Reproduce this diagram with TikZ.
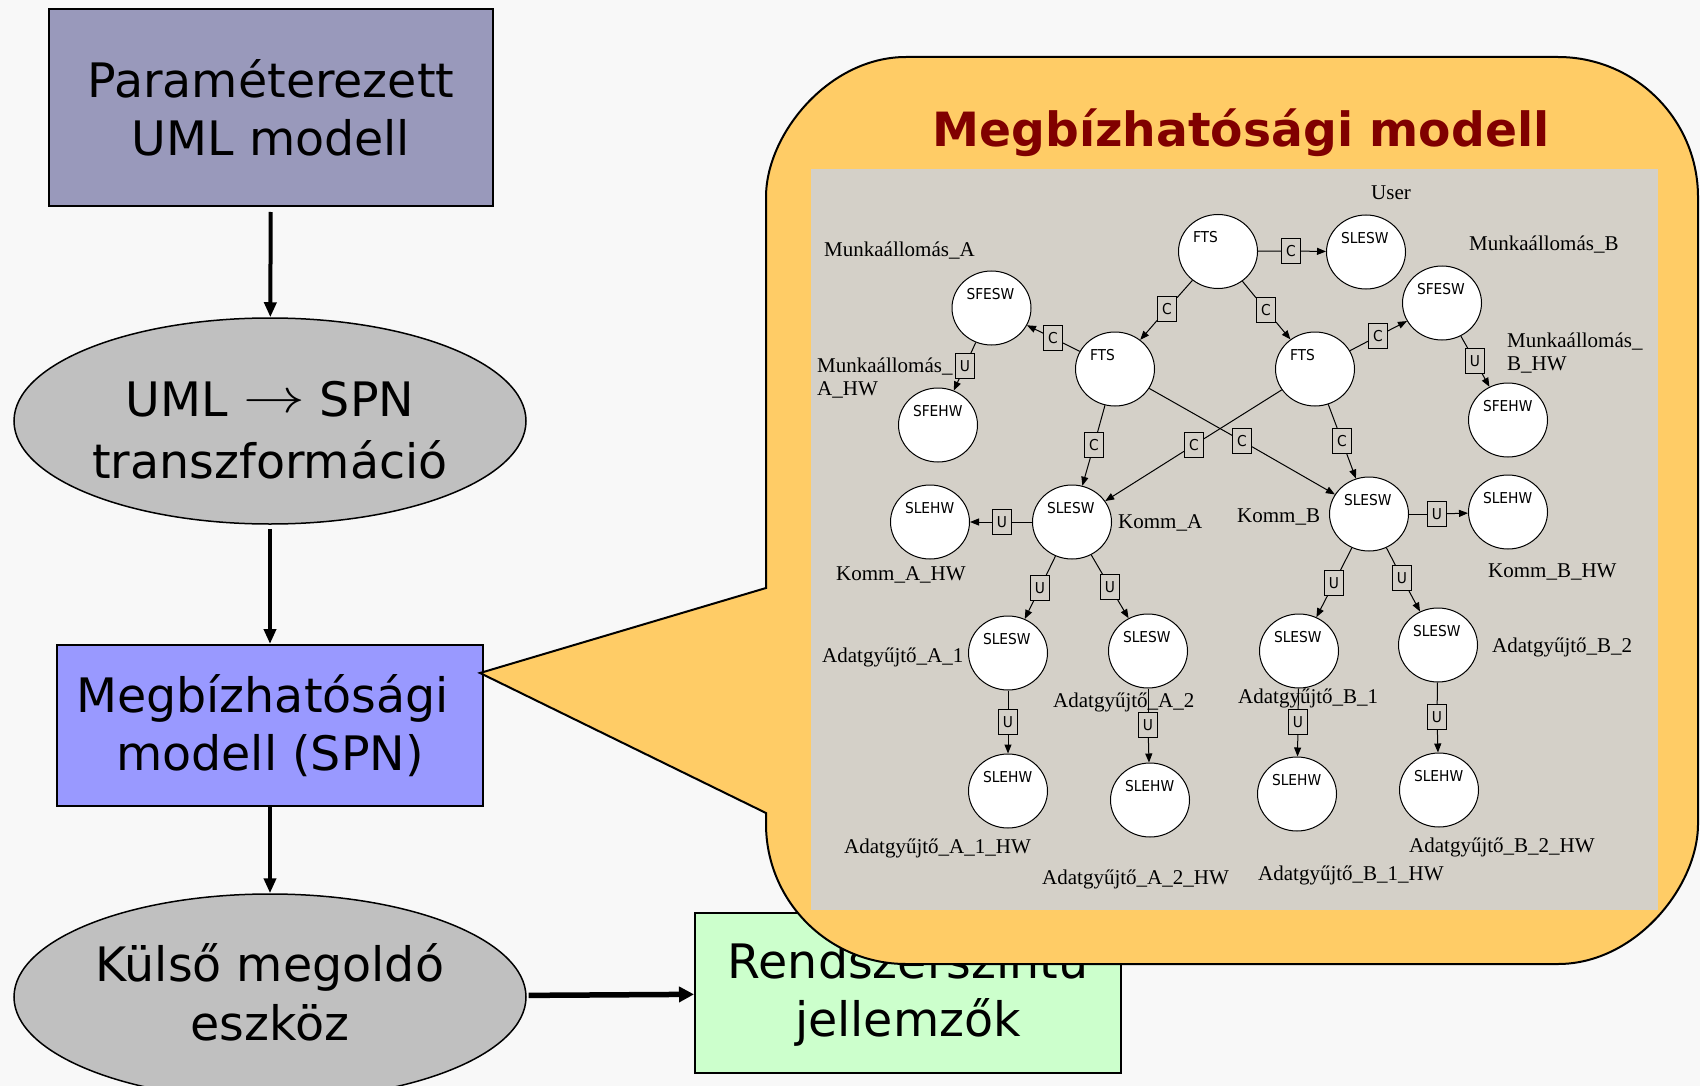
\RequirePackage{fix-cm}
\documentclass[tikz,border=0pt]{standalone}
\usepackage{fontspec}
\usepackage{graphicx}
\usetikzlibrary{arrows.meta,shapes.geometric}

\newfontfamily\flowfont{DejaVu Sans}
\newfontfamily\netfont[FakeStretch=0.92]{DejaVu Sans}
\newfontfamily\tagfont{Liberation Serif}

\definecolor{bgcol}{HTML}{F8F8F8}
\definecolor{umlcol}{HTML}{9999BB}
\definecolor{spncol}{HTML}{9999FF}
\definecolor{ellcol}{HTML}{C0C0C0}
\definecolor{rescol}{HTML}{CCFFCC}
\definecolor{calloutcol}{HTML}{FFCC66}
\definecolor{panelcol}{HTML}{D4D0C8}
\definecolor{titlered}{HTML}{800000}

% place label: left-aligned, slightly above the centre of the circle
\newcommand{\plabel}[1]{\raisebox{9pt}[0pt][0pt]{\makebox[0pt][l]{\kern-25pt #1}}}

\begin{document}
\begin{tikzpicture}[x=1pt,y=-1pt,
  flowbox/.style={rectangle, draw=black, line width=2pt, inner sep=0pt, align=center,
    font=\flowfont\fontsize{47.5pt}{58pt}\selectfont},
  flowell/.style={ellipse, draw=black, line width=1.5pt, fill=ellcol, inner sep=0pt, align=center,
    minimum width=512pt, minimum height=206pt},
  flow/.style={line width=4pt, -{Triangle[length=15pt,width=12pt]}},
  place/.style={ellipse, draw=black, line width=1pt, fill=white, minimum width=79pt,
    minimum height=74pt, inner sep=0pt, font=\netfont\fontsize{15pt}{15pt}\selectfont},
  gate/.style={rectangle, draw=black, line width=1pt, fill=panelcol, minimum width=19pt,
    minimum height=25pt, inner sep=0pt, font=\netfont\fontsize{15pt}{15pt}\selectfont},
  tag/.style={inner sep=0pt, anchor=base west, font=\tagfont\fontsize{21pt}{23pt}\selectfont},
  arc/.style={line width=1pt},
  arcto/.style={line width=1pt, -{Triangle[length=9pt,width=7pt]}}
]
\useasboundingbox (0,0) rectangle (1700,1086);
\fill[bgcol] (0,0) rectangle (1700,1086);

% ---------- tool chain on the left ----------
\node[flowbox, fill=umlcol, minimum width=444pt, minimum height=197pt] (uml) at (271,107.5)
  {Paraméterezett\\UML modell};
\node[flowell, font=\flowfont\fontsize{47.5pt}{62pt}\selectfont] (trans) at (270,421)
  {\rule{0pt}{54pt}UML \raisebox{4pt}{\scalebox{1.3}[1]{$\rightarrow$}} SPN\\transzformáció};
\node[flowbox, fill=spncol, minimum width=426pt, minimum height=161pt] (spn) at (270,725.5)
  {Megbízhatósági\hspace*{15pt}\\modell (SPN)};
\node[flowell, font=\flowfont\fontsize{47.5pt}{59pt}\selectfont] (solver) at (270,997)
  {Külső megoldó\\eszköz\rule[-10pt]{0pt}{0pt}};
\node[flowbox, fill=rescol, minimum width=426pt, minimum height=160pt] (result) at (908,993)
  {Rendszerszintű\\jellemzők};

\draw[flow, shorten <=5pt] (uml) -- (trans);
\draw[flow, shorten <=4pt] (trans) -- (spn);
\draw[flow] (spn) -- (solver);
\draw[line width=5.5pt, -{Triangle[length=15pt,width=15pt]}, shorten <=2pt] (solver) -- (result);

% ---------- callout with the reliability model ----------
\draw[line width=2pt, fill=calloutcol, line join=miter]
  (766,588) -- (480,673) -- (766,813) -- (766,824)
  .. controls (766,901.3) and (828.7,964) .. (906,964) -- (1558,964)
  .. controls (1635.3,964) and (1698,886.7) .. (1698,824) -- (1698,197)
  .. controls (1698,119.7) and (1635.3,57) .. (1558,57) -- (906,57)
  .. controls (828.7,57) and (766,134.3) .. (766,197) -- cycle;

\node[inner sep=0pt, anchor=base, text=titlered, font=\flowfont\bfseries\fontsize{47.2pt}{50pt}\selectfont]
  (title) at (1241,147) {Megbízhatósági modell};

\node[fill=panelcol, inner sep=0pt, minimum width=847pt, minimum height=741pt] (panel) at (1234.5,539.5) {};

% ---------- places ----------
\node[place] (ftsU) at (1218,251.5) {\plabel{FTS}};
\node[place] (slU)  at (1366,252)   {\plabel{SLESW}};
\node[place] (sfeA) at (991.5,308)  {\plabel{SFESW}};
\node[place] (ftsA) at (1115,369)   {\plabel{FTS}};
\node[place] (sfhA) at (938,425)    {\plabel{SFEHW}};
\node[place] (ftsB) at (1315,369)   {\plabel{FTS}};
\node[place] (sfeB) at (1442,303)   {\plabel{SFESW}};
\node[place] (sfhB) at (1508,420)   {\plabel{SFEHW}};
\node[place] (slA)  at (1072,522)   {\plabel{SLESW}};
\node[place] (shA)  at (930,522)    {\plabel{SLEHW}};
\node[place] (slB)  at (1369,514)   {\plabel{SLESW}};
\node[place] (shB)  at (1508,512)   {\plabel{SLEHW}};
\node[place] (a1)   at (1008,653)   {\plabel{SLESW}};
\node[place] (a2)   at (1148,651)   {\plabel{SLESW}};
\node[place] (b1)   at (1299,651)   {\plabel{SLESW}};
\node[place] (b2)   at (1438,645)   {\plabel{SLESW}};
\node[place] (ha1)  at (1008,791)   {\plabel{SLEHW}};
\node[place] (ha2)  at (1150,800)   {\plabel{SLEHW}};
\node[place] (hb1)  at (1297,794)   {\plabel{SLEHW}};
\node[place] (hb2)  at (1439,790)   {\plabel{SLEHW}};

% ---------- gates ----------
\node[gate] (g1)  at (1291,251) {C};
\node[gate] (g2)  at (1167,309) {C};
\node[gate] (g3)  at (1266,310) {C};
\node[gate] (g4)  at (1053,338) {C};
\node[gate] (g5)  at (965,366)  {U};
\node[gate] (g6)  at (1378,336) {C};
\node[gate] (g7)  at (1475,361) {U};
\node[gate] (g8)  at (1094,445) {C};
\node[gate] (g9)  at (1194,445) {C};
\node[gate] (g10) at (1242,441) {C};
\node[gate] (g11) at (1342,441) {C};
\node[gate] (g12) at (1002,522) {U};
\node[gate] (g13) at (1040,588) {U};
\node[gate] (g14) at (1110,587) {U};
\node[gate] (g15) at (1437,514) {U};
\node[gate] (g16) at (1334,583) {U};
\node[gate] (g17) at (1402,578) {U};
\node[gate] (g18) at (1008,722) {U};
\node[gate] (g19) at (1148,725) {U};
\node[gate] (g20) at (1298,722) {U};
\node[gate] (g21) at (1437,717) {U};

% ---------- arcs ----------
\foreach \s/\g/\t in {ftsU/g1/slU, ftsU/g2/ftsA, ftsU/g3/ftsB, ftsA/g4/sfeA, sfeA/g5/sfhA,
    ftsB/g6/sfeB, sfeB/g7/sfhB, ftsA/g8/slA, ftsB/g9/slA, ftsA/g10/slB, ftsB/g11/slB,
    slA/g12/shA, slA/g13/a1, slA/g14/a2, slB/g15/shB, slB/g16/b1, slB/g17/b2,
    a1/g18/ha1, a2/g19/ha2, b1/g20/hb1, b2/g21/hb2}{
  \draw[arc] (\s) -- (\g);
  \draw[arcto] (\g) -- (\t);
}

% ---------- component names ----------
\node[tag] (tUser)  at (1371,200) {User};
\node[tag] (tMA)    at (824,256)  {Munkaállomás\_A};
\node[tag] (tMB)    at (1469,251) {Munkaállomás\_B};
\node[tag] (tMAHa)  at (817,372)  {Munkaállomás\_};
\node[tag] (tMAHb)  at (817,395)  {A\_HW};
\node[tag] (tMBHa)  at (1507,347) {Munkaállomás\_};
\node[tag] (tMBHb)  at (1507,370) {B\_HW};
\node[tag] (tKA)    at (1118,528) {Komm\_A};
\node[tag] (tKAH)   at (836,580)  {Komm\_A\_HW};
\node[tag] (tKB)    at (1237,522) {Komm\_B};
\node[tag] (tKBH)   at (1488,577) {Komm\_B\_HW};
\node[tag] (tA1)    at (822,662)  {Adatgyűjtő\_A\_1};
\node[tag] (tA2)    at (1053,707) {Adatgyűjtő\_A\_2};
\node[tag] (tB1)    at (1238,703) {Adatgyűjtő\_B\_1};
\node[tag] (tB2)    at (1492,652) {Adatgyűjtő\_B\_2};
\node[tag] (tA1H)   at (844,853)  {Adatgyűjtő\_A\_1\_HW};
\node[tag] (tA2H)   at (1042,884) {Adatgyűjtő\_A\_2\_HW};
\node[tag] (tB1H)   at (1258,880) {Adatgyűjtő\_B\_1\_HW};
\node[tag] (tB2H)   at (1409,852) {Adatgyűjtő\_B\_2\_HW};
\end{tikzpicture}
\end{document}
